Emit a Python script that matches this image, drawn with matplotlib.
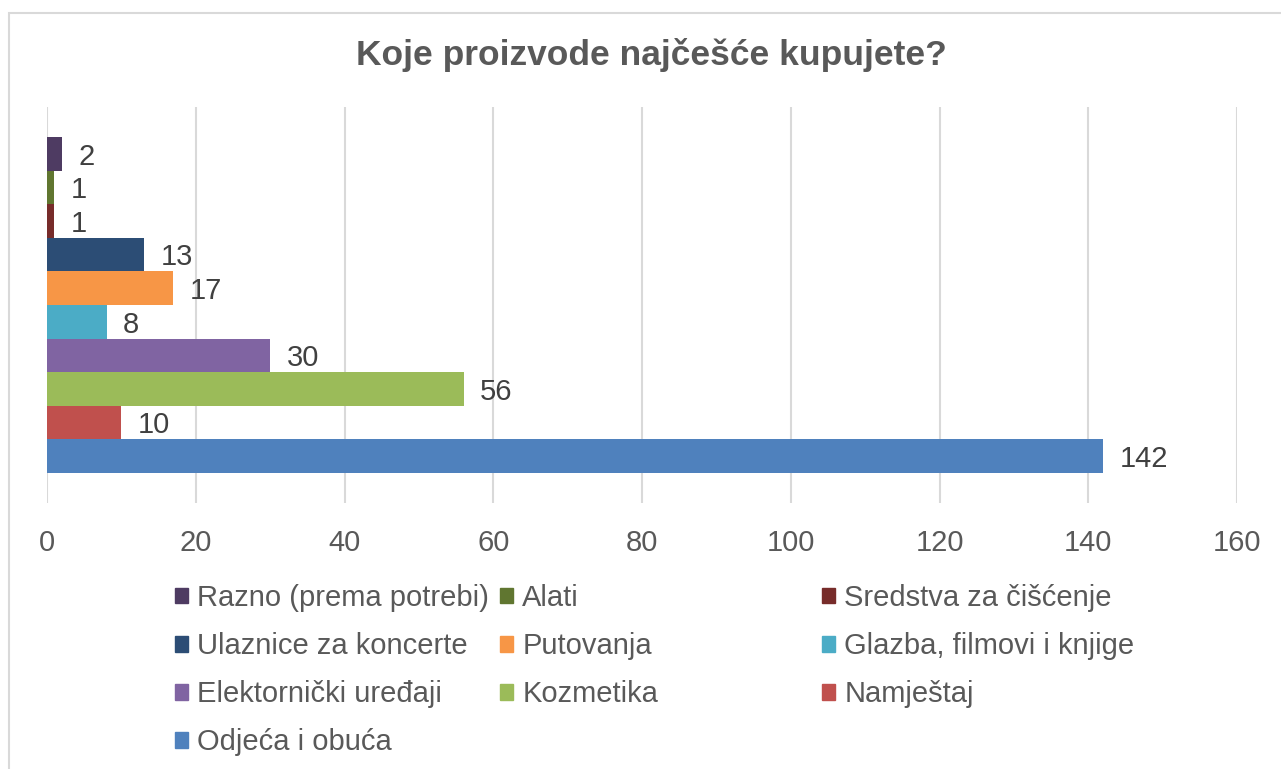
import matplotlib.pyplot as plt
from matplotlib.patches import Rectangle, Patch

plt.rcParams['font.family'] = ['Liberation Sans', 'DejaVu Sans']

## Podaci

kategorije = ['Razno (prema potrebi)', 'Alati', 'Sredstva za čišćenje',
              'Ulaznice za koncerte', 'Putovanja', 'Glazba, filmovi i knjige',
              'Elektornički uređaji', 'Kozmetika', 'Namještaj', 'Odjeća i obuća']
vrijednosti = [2, 1, 1, 13, 17, 8, 30, 56, 10, 142]
boje = ['#4E3B62', '#607630', '#772C2A', '#2C4D75', '#F79646',
        '#4BACC6', '#8064A2', '#9BBB59', '#C0504D', '#4F81BD']
x_ticks = [0, 20, 40, 60, 80, 100, 120, 140, 160]

siva = '#595959'

fig = plt.figure(figsize=(12.81, 7.69), dpi=100)
W, H = 1281, 769

# okvir grafikona
fig.patches.append(Rectangle((9 / W, -0.1), 1.2, (769 - 13) / H + 0.1,
                             transform=fig.transFigure, fill=False,
                             edgecolor='#d9d9d9', linewidth=1.5))

ax = fig.add_axes([47 / W, (769 - 503) / H, (1237 - 47) / W, (503 - 107) / H])

n = len(vrijednosti)
for i in range(n):
    pos = n - 1 - i
    ax.barh(pos, vrijednosti[i], height=1.0, color=boje[i], zorder=3)
    ax.annotate(str(vrijednosti[i]), (vrijednosti[i], pos), xytext=(12, -2),
                textcoords='offset points', va='center', ha='left',
                fontsize=21, color='#404040')

ax.set_xlim(0, 160)
ax.set_ylim(-1.4, n - 1 + 1.4)
ax.set_xticks(x_ticks)
ax.set_yticks([])
ax.grid(axis='x', color='#d9d9d9', linewidth=1.5, zorder=0)
for s in ax.spines.values():
    s.set_visible(False)
ax.tick_params(axis='x', length=0, pad=19, labelsize=21, labelcolor=siva)

fig.text(651 / W, 1 - 55 / H, 'Koje proizvode najčešće kupujete?',
         ha='center', va='center', fontsize=25.5, fontweight='bold', color=siva)

# legenda u tri stupca (redoslijed po redovima)
stupci_x = [175, 500, 822]
for c in range(3):
    idx = list(range(c, n, 3))
    handles = [Patch(color=boje[j]) for j in idx]
    labels = [kategorije[j] for j in idx]
    leg = fig.legend(handles, labels, loc='upper left',
                     bbox_to_anchor=(stupci_x[c] / W, 1 - 584 / H),
                     frameon=False, fontsize=21, handlelength=0.45,
                     handleheight=0.45, handletextpad=0.31,
                     labelspacing=0.69, borderpad=0, borderaxespad=0)
    for t in leg.get_texts():
        t.set_color(siva)

fig.savefig('out.png', dpi=100)
